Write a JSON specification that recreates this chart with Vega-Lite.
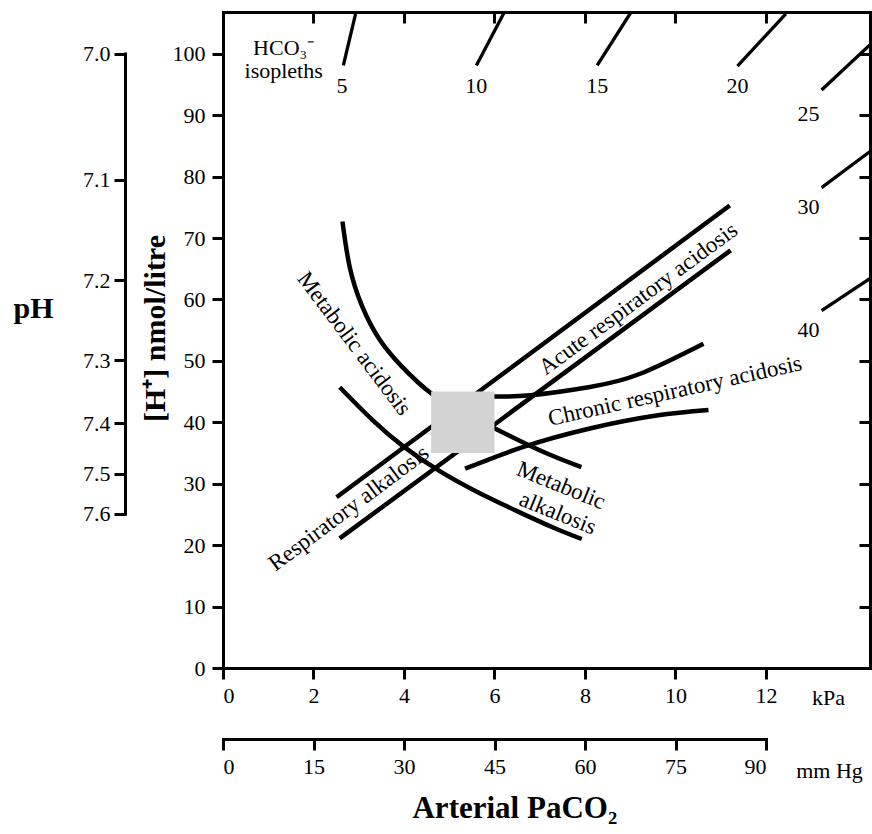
{
  "$schema": "https://vega.github.io/schema/vega-lite/v6.json",
  "width": 647,
  "height": 656,
  "autosize": {"type": "none"},
  "padding": {"left": 223, "top": 12, "right": 2, "bottom": 166},
  "background": "white",
  "config": {
    "view": {"stroke": null},
    "font": "Liberation Serif",
    "axis": {
      "grid": false,
      "domainColor": "black",
      "domainWidth": 3,
      "domainCap": "square",
      "tickColor": "black",
      "tickWidth": 3,
      "tickSize": 11,
      "labelFont": "Liberation Serif",
      "labelFontSize": 22,
      "labelColor": "black",
      "labelPadding": 6,
      "titleFont": "Liberation Serif",
      "titleColor": "black"
    },
    "text": {"font": "Liberation Serif", "fontSize": 23, "color": "black"}
  },
  "datasets": {
    "curves": [
      {"id": "aru", "kind": "main", "x": 2.51, "y": 27.8},
      {"id": "aru", "kind": "main", "x": 11.2, "y": 75.3},
      {"id": "arl", "kind": "main", "x": 2.58, "y": 21.1},
      {"id": "arl", "kind": "main", "x": 11.22, "y": 68.0},
      {"id": "mu", "kind": "main", "x": 2.64, "y": 72.7},
      {"id": "mu", "kind": "main", "x": 2.8, "y": 65.3},
      {"id": "mu", "kind": "main", "x": 3.07, "y": 59.0},
      {"id": "mu", "kind": "main", "x": 3.45, "y": 53.6},
      {"id": "mu", "kind": "main", "x": 3.95, "y": 49.1},
      {"id": "mu", "kind": "main", "x": 4.62, "y": 44.6},
      {"id": "mu", "kind": "main", "x": 5.31, "y": 41.6},
      {"id": "mu", "kind": "main", "x": 6.01, "y": 39.0},
      {"id": "mu", "kind": "main", "x": 7.01, "y": 35.4},
      {"id": "mu", "kind": "main", "x": 7.92, "y": 32.7},
      {"id": "ml", "kind": "main", "x": 2.58, "y": 45.7},
      {"id": "ml", "kind": "main", "x": 3.3, "y": 40.4},
      {"id": "ml", "kind": "main", "x": 4.0, "y": 36.0},
      {"id": "ml", "kind": "main", "x": 4.8, "y": 32.0},
      {"id": "ml", "kind": "main", "x": 5.61, "y": 28.7},
      {"id": "ml", "kind": "main", "x": 6.51, "y": 25.5},
      {"id": "ml", "kind": "main", "x": 7.32, "y": 22.8},
      {"id": "ml", "kind": "main", "x": 7.93, "y": 21.0},
      {"id": "cu", "kind": "main", "x": 5.51, "y": 44.2},
      {"id": "cu", "kind": "main", "x": 6.01, "y": 44.2},
      {"id": "cu", "kind": "main", "x": 6.79, "y": 44.4},
      {"id": "cu", "kind": "main", "x": 8.11, "y": 45.75},
      {"id": "cu", "kind": "main", "x": 9.22, "y": 47.9},
      {"id": "cu", "kind": "main", "x": 10.62, "y": 52.8},
      {"id": "cl", "kind": "main", "x": 5.35, "y": 32.45},
      {"id": "cl", "kind": "main", "x": 6.64, "y": 36.0},
      {"id": "cl", "kind": "main", "x": 8.11, "y": 39.0},
      {"id": "cl", "kind": "main", "x": 9.58, "y": 41.1},
      {"id": "cl", "kind": "main", "x": 10.73, "y": 42.0},
      {"id": "i5", "kind": "iso", "x": 2.66, "y": 98.1},
      {"id": "i5", "kind": "iso", "x": 2.93, "y": 106.5},
      {"id": "i10", "kind": "iso", "x": 5.6, "y": 98.1},
      {"id": "i10", "kind": "iso", "x": 6.22, "y": 106.8},
      {"id": "i15", "kind": "iso", "x": 8.27, "y": 98.1},
      {"id": "i15", "kind": "iso", "x": 9.02, "y": 106.8},
      {"id": "i20", "kind": "iso", "x": 11.37, "y": 98.0},
      {"id": "i20", "kind": "iso", "x": 12.44, "y": 106.5},
      {"id": "i25", "kind": "iso", "x": 13.23, "y": 94.1},
      {"id": "i25", "kind": "iso", "x": 14.32, "y": 101.6},
      {"id": "i30", "kind": "iso", "x": 13.23, "y": 78.2},
      {"id": "i30", "kind": "iso", "x": 14.34, "y": 84.3},
      {"id": "i40", "kind": "iso", "x": 13.23, "y": 58.2},
      {"id": "i40", "kind": "iso", "x": 14.34, "y": 63.6}
    ],
    "box": [{"x1": 4.6, "x2": 6.0, "y1": 35, "y2": 45}],
    "labels": [
      {"g": "iso", "label": "5", "x": 2.63, "y": 94.8},
      {"g": "iso", "label": "10", "x": 5.6, "y": 94.8},
      {"g": "iso", "label": "15", "x": 8.27, "y": 94.8},
      {"g": "iso", "label": "20", "x": 11.37, "y": 94.8},
      {"g": "iso", "label": "25", "x": 12.94, "y": 90.2},
      {"g": "iso", "label": "30", "x": 12.94, "y": 75.0},
      {"g": "iso", "label": "40", "x": 12.94, "y": 55.0},
      {"g": "head", "label": "HCO₃⁻\nisopleths", "x": 1.34, "y": 101.0},
      {"g": "ma", "label": "Metabolic acidosis", "x": 2.9, "y": 52.8},
      {"g": "ra", "label": "Respiratory alkalosis", "x": 2.78, "y": 26.0},
      {"g": "ara", "label": "Acute respiratory acidosis", "x": 9.18, "y": 60.1},
      {"g": "cra", "label": "Chronic respiratory acidosis", "x": 9.99, "y": 45.1},
      {"g": "mk", "label": "Metabolic", "x": 7.47, "y": 29.7},
      {"g": "mk", "label": "alkalosis", "x": 7.4, "y": 25.2},
      {"g": "title", "label": "Arterial PaCO₂", "x": 6.45, "y": -24.5}
    ],
    "ph": [
      {"h": 100}, {"h": 79.43}, {"h": 63.1}, {"h": 50.12}, {"h": 39.81}, {"h": 31.62}, {"h": 25.12}
    ],
    "mmhg": [
      {"p": 0}, {"p": 15}, {"p": 30}, {"p": 45}, {"p": 60}, {"p": 75}, {"p": 90}
    ]
  },
  "resolve": {
    "scale": {"x": "independent", "y": "independent"},
    "axis": {"x": "independent", "y": "independent"}
  },
  "layer": [
    {
      "resolve": {"scale": {"x": "shared", "y": "shared"}, "axis": {"x": "independent", "y": "independent"}},
      "layer": [
        {
          "data": {"name": "curves"},
          "transform": [{"filter": "datum.kind == 'main'"}],
          "mark": {"type": "line", "color": "black", "strokeWidth": 4.5, "interpolate": "natural"},
          "encoding": {
            "x": {
              "field": "x", "type": "quantitative",
              "scale": {"domain": [0, 14.3], "nice": false, "zero": false},
              "axis": {
                "orient": "bottom", "values": [0, 2, 4, 6, 8, 10, 12],
                "title": "kPa", "titleFontSize": 22, "titleFontWeight": "normal",
                "titleX": 605, "titleY": 36, "titleAlign": "center", "titleBaseline": "alphabetic", "titleAngle": 0
              }
            },
            "y": {
              "field": "y", "type": "quantitative",
              "scale": {"domain": [0, 106.8], "nice": false, "zero": false},
              "axis": {
                "orient": "left", "values": [0, 10, 20, 30, 40, 50, 60, 70, 80, 90, 100],
                "labelPadding": 7,
                "title": "[H⁺] nmol/litre", "titleFontSize": 30, "titleFontWeight": "bold",
                "titleAngle": 270, "titleX": -68, "titleY": 316, "titleAlign": "center", "titleBaseline": "middle"
              }
            },
            "detail": {"field": "id"}
          }
        },
        {
          "data": {"name": "curves"},
          "transform": [{"filter": "datum.kind == 'iso'"}],
          "mark": {"type": "line", "color": "black", "strokeWidth": 3.3, "clip": true},
          "encoding": {
            "x": {"field": "x", "type": "quantitative", "scale": {"domain": [0, 14.3], "nice": false, "zero": false}, "axis": null},
            "y": {"field": "y", "type": "quantitative", "scale": {"domain": [0, 106.8], "nice": false, "zero": false}, "axis": null},
            "detail": {"field": "id"}
          }
        },
        {
          "data": {"name": "box"},
          "mark": {"type": "rect", "color": "#d3d3d3"},
          "encoding": {
            "x": {
              "field": "x1", "type": "quantitative",
              "scale": {"domain": [0, 14.3], "nice": false, "zero": false},
              "axis": {"orient": "top", "values": [2, 4, 6, 8, 10, 12], "labels": false, "tickSize": -11, "title": null}
            },
            "x2": {"field": "x2"},
            "y": {
              "field": "y1", "type": "quantitative",
              "scale": {"domain": [0, 106.8], "nice": false, "zero": false},
              "axis": {"orient": "right", "values": [10, 20, 30, 40, 50, 60, 70, 80, 90, 100], "labels": false, "tickSize": -11, "title": null}
            },
            "y2": {"field": "y2"}
          }
        },
        {
          "data": {"name": "labels"},
          "transform": [{"filter": "datum.g == 'iso'"}],
          "mark": {"type": "text", "align": "center", "baseline": "middle", "fontSize": 22},
          "encoding": {
            "x": {"field": "x", "type": "quantitative", "scale": {"domain": [0, 14.3], "nice": false, "zero": false}, "axis": null},
            "y": {"field": "y", "type": "quantitative", "scale": {"domain": [0, 106.8], "nice": false, "zero": false}, "axis": null},
            "text": {"field": "label"}
          }
        },
        {
          "data": {"name": "labels"},
          "transform": [{"filter": "datum.g == 'head'"}],
          "mark": {"type": "text", "align": "center", "baseline": "middle", "fontSize": 22, "lineBreak": "\n", "lineHeight": 23},
          "encoding": {
            "x": {"field": "x", "type": "quantitative", "scale": {"domain": [0, 14.3], "nice": false, "zero": false}, "axis": null},
            "y": {"field": "y", "type": "quantitative", "scale": {"domain": [0, 106.8], "nice": false, "zero": false}, "axis": null},
            "text": {"field": "label"}
          }
        },
        {
          "data": {"name": "labels"},
          "transform": [{"filter": "datum.g == 'ma'"}],
          "mark": {"type": "text", "align": "center", "baseline": "middle", "angle": 53},
          "encoding": {
            "x": {"field": "x", "type": "quantitative", "scale": {"domain": [0, 14.3], "nice": false, "zero": false}, "axis": null},
            "y": {"field": "y", "type": "quantitative", "scale": {"domain": [0, 106.8], "nice": false, "zero": false}, "axis": null},
            "text": {"field": "label"}
          }
        },
        {
          "data": {"name": "labels"},
          "transform": [{"filter": "datum.g == 'ra'"}],
          "mark": {"type": "text", "align": "center", "baseline": "middle", "angle": 323.2},
          "encoding": {
            "x": {"field": "x", "type": "quantitative", "scale": {"domain": [0, 14.3], "nice": false, "zero": false}, "axis": null},
            "y": {"field": "y", "type": "quantitative", "scale": {"domain": [0, 106.8], "nice": false, "zero": false}, "axis": null},
            "text": {"field": "label"}
          }
        },
        {
          "data": {"name": "labels"},
          "transform": [{"filter": "datum.g == 'ara'"}],
          "mark": {"type": "text", "align": "center", "baseline": "middle", "angle": 323.6},
          "encoding": {
            "x": {"field": "x", "type": "quantitative", "scale": {"domain": [0, 14.3], "nice": false, "zero": false}, "axis": null},
            "y": {"field": "y", "type": "quantitative", "scale": {"domain": [0, 106.8], "nice": false, "zero": false}, "axis": null},
            "text": {"field": "label"}
          }
        },
        {
          "data": {"name": "labels"},
          "transform": [{"filter": "datum.g == 'cra'"}],
          "mark": {"type": "text", "align": "center", "baseline": "middle", "angle": 347.5},
          "encoding": {
            "x": {"field": "x", "type": "quantitative", "scale": {"domain": [0, 14.3], "nice": false, "zero": false}, "axis": null},
            "y": {"field": "y", "type": "quantitative", "scale": {"domain": [0, 106.8], "nice": false, "zero": false}, "axis": null},
            "text": {"field": "label"}
          }
        },
        {
          "data": {"name": "labels"},
          "transform": [{"filter": "datum.g == 'mk'"}],
          "mark": {"type": "text", "align": "center", "baseline": "middle", "angle": 22},
          "encoding": {
            "x": {"field": "x", "type": "quantitative", "scale": {"domain": [0, 14.3], "nice": false, "zero": false}, "axis": null},
            "y": {"field": "y", "type": "quantitative", "scale": {"domain": [0, 106.8], "nice": false, "zero": false}, "axis": null},
            "text": {"field": "label"}
          }
        },
        {
          "data": {"name": "labels"},
          "transform": [{"filter": "datum.g == 'title'"}],
          "mark": {"type": "text", "align": "center", "baseline": "alphabetic", "fontSize": 31, "fontWeight": "bold"},
          "encoding": {
            "x": {"field": "x", "type": "quantitative", "scale": {"domain": [0, 14.3], "nice": false, "zero": false}, "axis": null},
            "y": {"field": "y", "type": "quantitative", "scale": {"domain": [0, 106.8], "nice": false, "zero": false}, "axis": null},
            "text": {"field": "label"}
          }
        }
      ]
    },
    {
      "data": {"name": "ph"},
      "mark": {"type": "point", "opacity": 0},
      "encoding": {
        "y": {
          "field": "h", "type": "quantitative",
          "scale": {"domain": [25.12, 100], "range": [501.7, 41.6], "nice": false, "zero": false},
          "axis": {
            "orient": "left", "offset": 98,
            "values": [100, 79.43, 63.1, 50.12, 39.81, 31.62, 25.12],
            "labelExpr": "format(9 - log(datum.value) / LN10, '.1f')",
            "labelPadding": 4,
            "title": "pH", "titleFontSize": 30, "titleFontWeight": "bold", "titleAngle": 0,
            "titleX": -92, "titleY": 305, "titleAlign": "center", "titleBaseline": "alphabetic"
          }
        }
      }
    },
    {
      "data": {"name": "mmhg"},
      "mark": {"type": "point", "opacity": 0},
      "encoding": {
        "x": {
          "field": "p", "type": "quantitative",
          "scale": {"domain": [0, 90], "range": [0, 543], "nice": false, "zero": false},
          "axis": {
            "orient": "bottom", "offset": 71,
            "values": [0, 15, 30, 45, 60, 75, 90],
            "title": "mm Hg", "titleFontSize": 22, "titleFontWeight": "normal", "titleAngle": 0,
            "titleX": 606, "titleY": 38, "titleAlign": "center", "titleBaseline": "alphabetic"
          }
        }
      }
    }
  ]
}
